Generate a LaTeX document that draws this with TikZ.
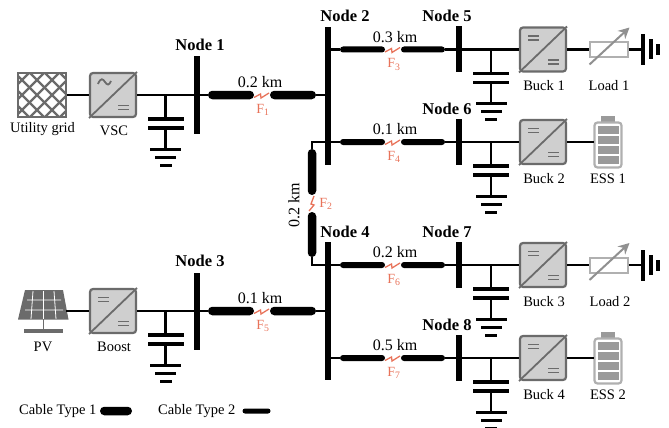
\documentclass[tikz,border=0pt]{standalone}
\usepackage{fontspec}
\setmainfont{Liberation Serif}
\usepackage{xcolor}
\usetikzlibrary{arrows.meta,positioning,calc,shapes.misc}
\definecolor{convedge}{HTML}{6B6B6B}
\definecolor{convfill}{HTML}{CFCFCF}
\definecolor{battedge}{HTML}{B0B0B0}
\definecolor{battcell}{HTML}{9A9A9A}
\definecolor{loadedge}{HTML}{B0B0B0}
\definecolor{loadarrow}{HTML}{909090}
\definecolor{faultred}{HTML}{E8735A}
\tikzset{
  wire/.style={line width=2.5pt},
  bus/.style={fill=black,inner sep=0pt,outer sep=0pt,minimum width=6pt},
  plate/.style={fill=black,inner sep=0pt,outer sep=0pt,minimum height=3.6pt},
  cableone/.style={rounded rectangle,fill=black,inner sep=0pt,outer sep=0pt,minimum height=8.5pt},
  cabletwo/.style={rounded rectangle,fill=black,inner sep=0pt,outer sep=0pt,minimum height=6pt},
  fault/.style={faultred,line width=1.3pt},
  faultlbl/.style={faultred,font=\fontsize{14}{14}\selectfont,inner sep=0pt},
  lbl/.style={font=\fontsize{14.5}{15}\selectfont,inner sep=0pt},
  kmlbl/.style={font=\fontsize{16}{16}\selectfont,inner sep=0pt},
  nodelbl/.style={font=\fontsize{16.5}{17}\selectfont\bfseries,inner sep=0pt},
  convbox/.style={draw=convedge,fill=convfill,line width=2.2pt,rounded corners=3pt,
    minimum width=46pt,minimum height=44pt,inner sep=0pt,outer sep=1pt},
  glyph/.style={convedge,line width=1.8pt},
}
% converter box: name, x, y
\newcommand{\convbox}[3]{
  \node[convbox] (#1) at (#2,#3) {};
  \draw[glyph] (#1.south west) -- (#1.north east);
  \draw[glyph] ($(#1.center)+(5,10.5)$) -- ++(10.5,0) ($(#1.center)+(5,14.5)$) -- ++(10.5,0);
}
% the = sign in the upper left corner
\newcommand{\dcmark}[1]{
  \draw[glyph] ($(#1.center)+(-15,-13.5)$) -- ++(10.5,0) ($(#1.center)+(-15,-9.5)$) -- ++(10.5,0);
}
% shunt capacitor with its ground: name, x, y of the line
\newcommand{\shuntcap}[3]{
  \coordinate (#1top) at (#2,#3);
  \node[plate,minimum width=36pt] (#1a) at (#2,#3+24) {};
  \node[plate,minimum width=36pt] (#1b) at (#2,#3+33) {};
  \node[plate,minimum width=31pt,minimum height=3pt] (#1g) at (#2,#3+54) {};
  \node[plate,minimum width=21pt,minimum height=3pt] (#1h) at (#2,#3+62) {};
  \node[plate,minimum width=12pt,minimum height=3pt] (#1i) at (#2,#3+70) {};
  \draw[wire] (#1top) -- (#1a.center);
  \draw[wire] (#1b.center) -- (#1g.center);
}
% red fault mark between two cable ends
\newcommand{\faultmark}[2]{
  \draw[fault] ($(#1.east)+(0,2.5)$) -- ++(6.5,-3.5) -- ++(0.5,4) -- ++(8,-5);
}
% variable load with its earth: name, x, y
\newcommand{\varload}[3]{
  \node[draw=loadedge,fill=white,line width=2pt,minimum width=38pt,minimum height=15pt,
    inner sep=0pt,outer sep=1pt] (#1) at (#2,#3) {};
  \draw[loadarrow,line width=2pt,-{Stealth[length=11pt,width=11pt]}]
    ($(#1.center)+(-19,15)$) -- ($(#1.center)+(21,-22)$);
  \node[fill=black,inner sep=0pt,minimum width=3.2pt,minimum height=31pt] (#1g) at (#2+34.5,#3) {};
  \node[fill=black,inner sep=0pt,minimum width=3.2pt,minimum height=20pt] (#1h) at (#2+42.5,#3) {};
  \node[fill=black,inner sep=0pt,minimum width=3.2pt,minimum height=11pt] (#1i) at (#2+49.5,#3) {};
  \draw[wire] (#1.east) -- (#1g.center);
}
% battery: name, x, y
\newcommand{\battery}[3]{
  \node[fill=battcell,inner sep=0pt,minimum width=14pt,minimum height=6pt] (#1cap) at (#2,#3-23) {};
  \node[draw=battedge,fill=white,line width=2.2pt,rounded corners=3pt,minimum width=27pt,
    minimum height=45pt,inner sep=0pt,outer sep=1pt] (#1) at (#2,#3+3) {};
  \foreach \c in {-15,-5,5,15}
    \fill[battcell] ($(#1.center)+(-10.5,\c-4.3)$) rectangle ++(21,8.6);
}

\begin{document}
\begin{tikzpicture}[x=1pt,y=-1pt]
  \useasboundingbox (0,0) rectangle (669,428);

  % Sources
  \node[draw=convedge,line width=2.2pt,minimum width=48pt,minimum height=44pt,inner sep=0pt,outer sep=1pt] (grid) at (42,95) {};
  \begin{scope}
    \clip (18,73) rectangle (66,117);
    \foreach \d in {-30,-15,...,75} {
      \draw[convedge,line width=2.2pt] (\d,73) -- ++(44,44);
      \draw[convedge,line width=2.2pt] (\d,117) -- ++(44,-44);
    }
  \end{scope}
  \node[lbl] (gridlbl) at (42.5,129) {Utility grid};
  \convbox{vsc}{113}{95}
  \draw[glyph] (98,84) .. controls (101,77) and (103,79) .. (105,82) .. controls (107,85) and (109,86) .. (111,81);
  \node[lbl] (vsclbl) at (114,131) {VSC};

  \fill[convedge] (25,290) -- (63,290) -- (68.5,319.5) -- (18,319.5) -- cycle;
  \draw[white,line width=0.8pt] (27,300) -- (61,300) (25,310) -- (63,310)
    (33,291) -- (31,319) (43.5,291) -- (43.5,319) (54,291) -- (56,319);
  \draw[convedge,line width=1.6pt] (43.5,319) -- (43.5,331);
  \fill[convedge] (24,329) rectangle (63,333);
  \coordinate (pvout) at (66,311);
  \node[lbl] (pvlbl) at (43,347) {PV};
  \convbox{boost}{113}{311}
  \dcmark{boost}
  \node[lbl] (boostlbl) at (114,347) {Boost};

  % Buses
  \node[bus,minimum height=77pt] (n1) at (197,95) {};
  \node[bus,minimum height=77pt] (n3) at (197,311) {};
  \node[bus,minimum height=138pt] (n2) at (327.5,96) {};
  \node[bus,minimum height=138pt] (n4) at (327.5,311) {};
  \node[nodelbl] at (200,45) {Node 1};
  \node[nodelbl] at (200,261) {Node 3};
  \node[nodelbl] at (345,16) {Node 2};
  \node[nodelbl] at (345,232) {Node 4};

  % Left side wires and shunt capacitors
  \draw[wire] (grid.east) -- (vsc.west);
  \draw[wire] (vsc.east) -- (n1.center);
  \draw[wire] (pvout) -- (boost.west);
  \draw[wire] (boost.east) -- (n3.center);
  \shuntcap{capa}{165.5}{95}
  \shuntcap{capb}{165.5}{311}

  % Type 1 cables between the buses
  \foreach \from/\to/\yy/\dist/\fid in {1/2/95/0.2/1, 3/4/311/0.1/5} {
    \node[cableone,minimum width=46pt] (cab\fid a) at (231,\yy) {};
    \node[cableone,minimum width=46pt] (cab\fid b) at (293,\yy) {};
    \draw[wire] (n\from.center |- cab\fid a.west) -- (cab\fid a.west);
    \draw[wire] (cab\fid b.east) -- (n\to.center |- cab\fid b.east);
    \faultmark{cab\fid a}{cab\fid b}
    \node[kmlbl] at (260,\yy-13) {\dist{} km};
    \node[faultlbl] at (263,\yy+15) {F\textsubscript{\fid}};
  }

  % Feeders to the right
  \foreach \nid/\yy/\mb/\dist/\fid/\bid in {5/49.5/2/0.3/3/1, 6/142/2/0.1/4/2, 7/265/4/0.2/6/3, 8/358/4/0.5/7/4} {
    \node[bus,minimum height=46pt] (n\nid) at (459,\yy) {};
    \node[nodelbl] at (447,\yy-33.5) {Node \nid};
    \node[cabletwo,minimum width=45pt] (cab\fid a) at (362.5,\yy) {};
    \node[cabletwo,minimum width=44pt] (cab\fid b) at (423,\yy) {};
    \draw[wire] (n\mb.center |- cab\fid a.west) -- (cab\fid a.west);
    \draw[wire] (cab\fid b.east) -- (n\nid.center);
    \faultmark{cab\fid a}{cab\fid b}
    \node[kmlbl] at (395,\yy-12.5) {\dist{} km};
    \node[faultlbl] at (394,\yy+15) {F\textsubscript{\fid}};
    \shuntcap{cap\nid}{491}{\yy}
    \convbox{buck\bid}{543}{\yy}
    \dcmark{buck\bid}
    \draw[wire] (n\nid.center) -- (buck\bid.west);
    \node[lbl] at (544,\yy+36.5) {Buck \bid};
  }

  % Tie between Node 2 and Node 4
  \node[cableone,minimum width=46pt,rotate=90] (cab2a) at (312,172) {};
  \node[cableone,minimum width=45pt,rotate=90] (cab2b) at (312,234.5) {};
  \draw[wire] (cab2a.east) |- (n2.center |- cab4a.west);
  \draw[wire] (cab2b.west) |- (n4.center |- cab6a.west);
  \draw[fault] ($(cab2a.west)+(2,1)$) -- ++(-3,8) -- ++(3,1) -- ++(-5,6);
  \node[kmlbl,rotate=90] at (294,205) {0.2 km};
  \node[faultlbl] at (326,204) {F\textsubscript{2}};

  % Loads and storage
  \varload{loada}{608.5}{49.5}
  \draw[wire] (buck1.east) -- (loada.west);
  \node[lbl] at (609,86) {Load 1};
  \varload{loadb}{608.5}{265}
  \draw[wire] (buck3.east) -- (loadb.west);
  \node[lbl] at (610,301.5) {Load 2};
  \battery{essa}{608}{142}
  \draw[wire] (buck2.east) -- (essa.west |- buck2.east);
  \node[lbl] at (608,178.5) {ESS 1};
  \battery{essb}{608}{358}
  \draw[wire] (buck4.east) -- (essb.west |- buck4.east);
  \node[lbl] at (608,394.5) {ESS 2};

  % Legend
  \node[lbl,anchor=west] (leg1) at (19,411) {Cable Type 1};
  \node[cableone,minimum width=32pt] (legcab1) at (116,411) {};
  \node[lbl,anchor=west] (leg2) at (158,411) {Cable Type 2};
  \node[cabletwo,minimum width=28pt,minimum height=5pt] (legcab2) at (256.5,411) {};
\end{tikzpicture}
\end{document}
